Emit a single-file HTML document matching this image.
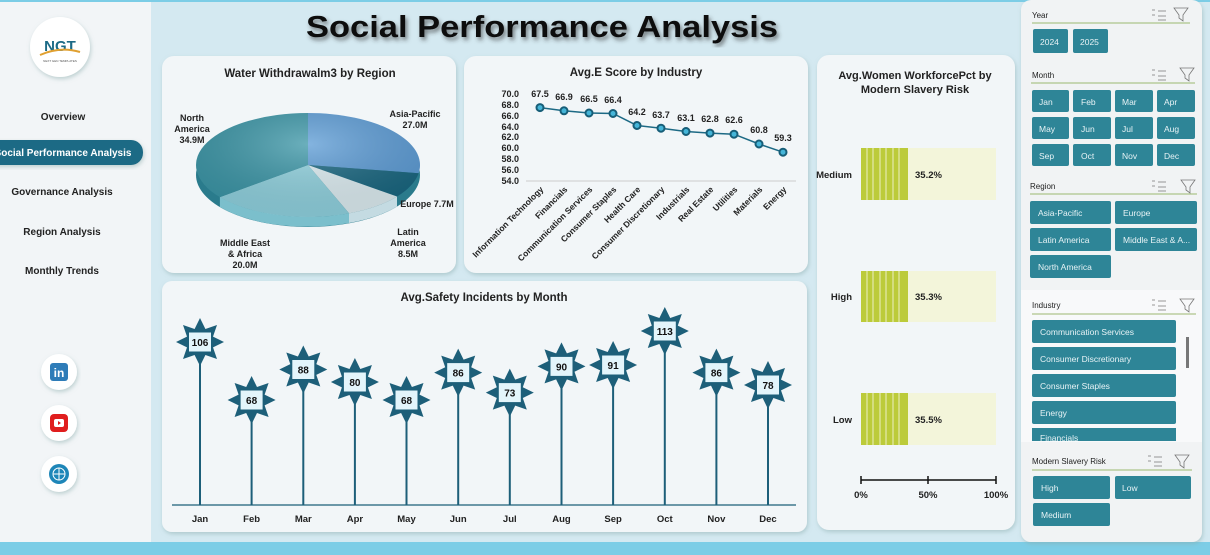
<!DOCTYPE html>
<html><head><meta charset="utf-8"><style>
html,body{margin:0;padding:0;width:1210px;height:555px;overflow:hidden;background:#d4e9f1}
svg{display:block;font-family:"Liberation Sans",sans-serif}
</style></head><body>
<svg width="1210" height="555" viewBox="0 0 1210 555" xmlns="http://www.w3.org/2000/svg">
<defs>
<filter id="sh" x="-10%" y="-10%" width="120%" height="130%"><feDropShadow dx="1" dy="2" stdDeviation="2" flood-color="#8aa" flood-opacity="0.5"/></filter>
<filter id="tsh"><feDropShadow dx="2" dy="3" stdDeviation="2" flood-color="#333" flood-opacity="0.6"/></filter>
<radialGradient id="pg" cx="50%" cy="30%" r="70%"><stop offset="0" stop-color="#fff" stop-opacity="0.25"/><stop offset="1" stop-color="#000" stop-opacity="0.1"/></radialGradient>
<g id="star"><polygon points="0,-24 5.4,-13 17,-17 13,-5.4 24,0 13,5.4 17,17 5.4,13 0,24 -5.4,13 -17,17 -13,5.4 -24,0 -13,-5.4 -17,-17 -5.4,-13" fill="#1d5f79"/><rect x="-11" y="-9.5" width="22" height="19" fill="#e3f5fb"/></g>
</defs>
<rect width="1210" height="555" fill="#d4e9f1"/>
<rect x="0" y="542" width="1210" height="13" fill="#7ccde6"/>
<rect x="0" y="0" width="1210" height="2" fill="#7ccde6"/>
<rect x="0" y="2" width="151" height="540" fill="#f2f5f7"/>
<circle cx="60" cy="47" r="30" fill="#fff" filter="url(#sh)"/>
<text x="60" y="51" text-anchor="middle" font-size="15" font-weight="bold" fill="#1c6a86">NGT</text>
<path d="M40 55 Q60 46 80 52" stroke="#e0a030" stroke-width="2" fill="none"/>
<text x="60" y="62" text-anchor="middle" font-size="3" fill="#555">NEXT GEN TEMPLATES</text>
<g font-size="10" font-weight="bold" fill="#222" text-anchor="middle">
<text x="63" y="120">Overview</text>
<text x="62" y="195">Governance Analysis</text>
<text x="62" y="235">Region Analysis</text>
<text x="62" y="274">Monthly Trends</text>
</g>
<rect x="-20" y="140" width="163" height="25" rx="12" fill="#1d6a85" filter="url(#sh)"/>
<text x="63" y="156" text-anchor="middle" font-size="10" font-weight="bold" fill="#fff">Social Performance Analysis</text>
<circle cx="59" cy="372" r="18" fill="#fff" filter="url(#sh)"/>
<rect x="50" y="363" width="18" height="18" rx="3" fill="#2e7cb8"/><text x="59" y="377" text-anchor="middle" font-size="12" font-weight="bold" fill="#fff">in</text>
<circle cx="59" cy="423" r="18" fill="#fff" filter="url(#sh)"/>
<rect x="50" y="414" width="18" height="18" rx="4" fill="#e01e1e"/><rect x="54" y="419" width="10" height="8" rx="2" fill="#fff"/><polygon points="58,421 58,425 61,423" fill="#e01e1e"/>
<circle cx="59" cy="474" r="18" fill="#fff" filter="url(#sh)"/>
<circle cx="59" cy="474" r="10" fill="#1e86b8"/><circle cx="59" cy="474" r="6" fill="none" stroke="#fff" stroke-width="1"/><line x1="53" y1="474" x2="65" y2="474" stroke="#fff"/><line x1="59" y1="468" x2="59" y2="480" stroke="#fff"/>
<text x="542" y="37" text-anchor="middle" font-size="31" font-weight="bold" fill="#111" filter="url(#tsh)" textLength="472" lengthAdjust="spacingAndGlyphs">Social Performance Analysis</text>
<rect x="162" y="56" width="294" height="217" rx="12" fill="#f2f6f8" filter="url(#sh)"/>
<rect x="464" y="56" width="344" height="217" rx="12" fill="#f2f6f8" filter="url(#sh)"/>
<rect x="162" y="281" width="645" height="251" rx="10" fill="#f2f6f8" filter="url(#sh)"/>
<rect x="817" y="55" width="198" height="475" rx="12" fill="#f2f6f8" filter="url(#sh)"/>
<text x="310" y="77" text-anchor="middle" font-size="11.5" font-weight="bold" fill="#222">Water Withdrawalm3 by Region</text>
<ellipse cx="308" cy="175" rx="112" ry="52" fill="#2a7b8c"/>
<path d="M219.9 207 L219.9 197 A112 52 0 0 0 349 213.4 L349 223 A112 52 0 0 1 219.9 207Z" fill="#7bbfcc"/>
<path d="M349 213.4 L349 223 A112 52 0 0 0 397 206.5 L397 196.5 A112 52 0 0 1 349 213.4Z" fill="#c4dbe2"/>
<path d="M308 165 L308 113 A112 52 0 0 1 418.6 173.2Z" fill="#5b9bd5"/>
<path d="M308 165 L418.6 173.2 A112 52 0 0 1 397 196.5Z" fill="#17657f"/>
<path d="M308 165 L397 196.5 A112 52 0 0 1 349.1 213.4Z" fill="#dcecf1"/>
<path d="M308 165 L349.1 213.4 A112 52 0 0 1 219.9 197.1Z" fill="#8fd1de"/>
<path d="M308 165 L219.9 197.1 A112 52 0 0 1 308 113Z" fill="#3a95a6"/>
<ellipse cx="308" cy="165" rx="112" ry="52" fill="url(#pg)"/>
<g font-size="9" font-weight="bold" fill="#222" text-anchor="middle">
<text x="192" y="121">North</text><text x="192" y="132">America</text><text x="192" y="143">34.9M</text>
<text x="415" y="117">Asia-Pacific</text><text x="415" y="128">27.0M</text>
<text x="427" y="207">Europe 7.7M</text>
<text x="408" y="235">Latin</text><text x="408" y="246">America</text><text x="408" y="257">8.5M</text>
<text x="245" y="246">Middle East</text><text x="245" y="257">&amp; Africa</text><text x="245" y="268">20.0M</text>
</g>
<text x="636" y="76" text-anchor="middle" font-size="11.5" font-weight="bold" fill="#222">Avg.E Score by Industry</text>
<g font-size="9" font-weight="bold" fill="#222" text-anchor="end">
<text x="519" y="97">70.0</text><text x="519" y="108">68.0</text><text x="519" y="119">66.0</text><text x="519" y="130">64.0</text><text x="519" y="140">62.0</text><text x="519" y="151">60.0</text><text x="519" y="162">58.0</text><text x="519" y="173">56.0</text><text x="519" y="184">54.0</text>
</g>
<line x1="526" y1="181" x2="796" y2="181" stroke="#ccc"/>
<polyline points="540,107.6 564,110.8 589,113 613,113.5 637,125.5 661,128.2 686,131.5 710,133.1 734,134.2 759,144 783,152.2" fill="none" stroke="#1d6a85" stroke-width="1.5"/>
<g fill="#45b5d8" stroke="#175e78" stroke-width="2">
<circle cx="540" cy="107.6" r="3.5"/><circle cx="564" cy="110.8" r="3.5"/><circle cx="589" cy="113" r="3.5"/><circle cx="613" cy="113.5" r="3.5"/><circle cx="637" cy="125.5" r="3.5"/><circle cx="661" cy="128.2" r="3.5"/><circle cx="686" cy="131.5" r="3.5"/><circle cx="710" cy="133.1" r="3.5"/><circle cx="734" cy="134.2" r="3.5"/><circle cx="759" cy="144" r="3.5"/><circle cx="783" cy="152.2" r="3.5"/>
</g>
<g font-size="9" font-weight="bold" fill="#222" text-anchor="middle">
<text x="540" y="97">67.5</text><text x="564" y="100">66.9</text><text x="589" y="102">66.5</text><text x="613" y="103">66.4</text><text x="637" y="115">64.2</text><text x="661" y="118">63.7</text><text x="686" y="121">63.1</text><text x="710" y="122">62.8</text><text x="734" y="123">62.6</text><text x="759" y="133">60.8</text><text x="783" y="141">59.3</text>
</g>
<g font-size="8.5" font-weight="bold" fill="#222" text-anchor="end">
<text transform="translate(544,190) rotate(-45)">Information Technology</text>
<text transform="translate(568,190) rotate(-45)">Financials</text>
<text transform="translate(593,190) rotate(-45)">Communication Services</text>
<text transform="translate(617,190) rotate(-45)">Consumer Staples</text>
<text transform="translate(641,190) rotate(-45)">Health Care</text>
<text transform="translate(665,190) rotate(-45)">Consumer Discretionary</text>
<text transform="translate(690,190) rotate(-45)">Industrials</text>
<text transform="translate(714,190) rotate(-45)">Real Estate</text>
<text transform="translate(738,190) rotate(-45)">Utilities</text>
<text transform="translate(763,190) rotate(-45)">Materials</text>
<text transform="translate(787,190) rotate(-45)">Energy</text>
</g>
<text x="484" y="301" text-anchor="middle" font-size="11.5" font-weight="bold" fill="#222">Avg.Safety Incidents by Month</text>
<line x1="172" y1="505" x2="796" y2="505" stroke="#1d5f79" stroke-width="1.2"/>
<g stroke="#1d5f79" stroke-width="2">
<line x1="200" y1="505" x2="200" y2="342"/><line x1="251.6" y1="505" x2="251.6" y2="400"/><line x1="303.3" y1="505" x2="303.3" y2="369.5"/><line x1="354.9" y1="505" x2="354.9" y2="382"/><line x1="406.5" y1="505" x2="406.5" y2="400"/><line x1="458.2" y1="505" x2="458.2" y2="372.6"/><line x1="509.8" y1="505" x2="509.8" y2="392.6"/><line x1="561.5" y1="505" x2="561.5" y2="366.4"/><line x1="613.1" y1="505" x2="613.1" y2="365"/><line x1="664.8" y1="505" x2="664.8" y2="331"/><line x1="716.4" y1="505" x2="716.4" y2="372.6"/><line x1="768" y1="505" x2="768" y2="385"/>
</g>
<use href="#star" x="200" y="342"/><use href="#star" x="251.6" y="400"/><use href="#star" x="303.3" y="369.5"/><use href="#star" x="354.9" y="382"/><use href="#star" x="406.5" y="400"/><use href="#star" x="458.2" y="372.6"/><use href="#star" x="509.8" y="392.6"/><use href="#star" x="561.5" y="366.4"/><use href="#star" x="613.1" y="365"/><use href="#star" x="664.8" y="331"/><use href="#star" x="716.4" y="372.6"/><use href="#star" x="768" y="385"/>
<g font-size="10" font-weight="bold" fill="#111" text-anchor="middle">
<text x="200" y="346">106</text><text x="251.6" y="404">68</text><text x="303.3" y="373.5">88</text><text x="354.9" y="386">80</text><text x="406.5" y="404">68</text><text x="458.2" y="376.6">86</text><text x="509.8" y="396.6">73</text><text x="561.5" y="370.4">90</text><text x="613.1" y="369">91</text><text x="664.8" y="335">113</text><text x="716.4" y="376.6">86</text><text x="768" y="389">78</text>
</g>
<g font-size="9.5" font-weight="bold" fill="#222" text-anchor="middle">
<text x="200" y="522">Jan</text><text x="251.6" y="522">Feb</text><text x="303.3" y="522">Mar</text><text x="354.9" y="522">Apr</text><text x="406.5" y="522">May</text><text x="458.2" y="522">Jun</text><text x="509.8" y="522">Jul</text><text x="561.5" y="522">Aug</text><text x="613.1" y="522">Sep</text><text x="664.8" y="522">Oct</text><text x="716.4" y="522">Nov</text><text x="768" y="522">Dec</text>
</g>
<text x="915" y="79" text-anchor="middle" font-size="11" font-weight="bold" fill="#222">Avg.Women WorkforcePct by</text>
<text x="915" y="93" text-anchor="middle" font-size="11" font-weight="bold" fill="#222">Modern Slavery Risk</text>
<g>
<rect x="861" y="148" width="135" height="52" fill="#f3f5da"/><rect x="861" y="148" width="47" height="52" fill="#bccb3a"/>
<rect x="861" y="271" width="135" height="51" fill="#f3f5da"/><rect x="861" y="271" width="47" height="51" fill="#bccb3a"/>
<rect x="861" y="393" width="135" height="52" fill="#f3f5da"/><rect x="861" y="393" width="47" height="52" fill="#bccb3a"/>
</g>
<g stroke="#fff" stroke-width="1" opacity="0.7">
<path d="M867 148V200M873 148V200M880 148V200M886 148V200M893 148V200M899 148V200M867 271V322M873 271V322M880 271V322M886 271V322M893 271V322M899 271V322M867 393V445M873 393V445M880 393V445M886 393V445M893 393V445M899 393V445"/>
</g>
<g font-size="9.5" font-weight="bold" fill="#222">
<text x="852" y="178" text-anchor="end">Medium</text><text x="852" y="300" text-anchor="end">High</text><text x="852" y="423" text-anchor="end">Low</text>
<text x="915" y="178">35.2%</text><text x="915" y="300">35.3%</text><text x="915" y="423">35.5%</text>
<text x="861" y="498" text-anchor="middle">0%</text><text x="928" y="498" text-anchor="middle">50%</text><text x="996" y="498" text-anchor="middle">100%</text>
</g>
<path d="M861 480H996M861 476V484M928 476V484M996 476V484" stroke="#111" stroke-width="1.5"/>
<rect x="1021" y="0" width="181" height="542" rx="10" fill="#f1f3f4" filter="url(#sh)"/>
<rect x="1021" y="290" width="181" height="152" fill="#f8f9fa"/>
<g font-size="8" fill="#222">
<text x="1032" y="18">Year</text><text x="1032" y="78">Month</text><text x="1030" y="189">Region</text><text x="1032" y="308">Industry</text><text x="1032" y="464">Modern Slavery Risk</text>
</g>
<g stroke="#9bb870" stroke-width="1"><line x1="1032" y1="23" x2="1190" y2="23"/><line x1="1031" y1="83" x2="1195" y2="83"/><line x1="1030" y1="194" x2="1197" y2="194"/><line x1="1032" y1="314" x2="1196" y2="314"/><line x1="1032" y1="470" x2="1192" y2="470"/></g>
<g fill="none" stroke="#777" stroke-width="0.8">
<path d="M1152 10h3M1158 11h8M1152 15h3M1158 16h8M1158 20h8M1174 8h14l-5 7v6l-4-3v-3z"/>
<path d="M1152 70h3M1158 71h8M1152 75h3M1158 76h8M1158 80h8M1180 68h14l-5 7v6l-4-3v-3z"/>
<path d="M1152 181h3M1158 182h8M1152 186h3M1158 187h8M1158 191h8M1181 180h14l-5 7v6l-4-3v-3z"/>
<path d="M1152 300h3M1158 301h8M1152 305h3M1158 306h8M1158 310h8M1180 299h14l-5 7v6l-4-3v-3z"/>
<path d="M1148 456h3M1154 457h8M1148 461h3M1154 462h8M1154 466h8M1175 455h14l-5 7v6l-4-3v-3z"/>
</g>
<g fill="#2e8597">
<rect x="1033" y="29" width="35" height="24" rx="2"/><rect x="1073" y="29" width="35" height="24" rx="2"/>
<rect x="1032" y="90" width="37" height="22" rx="2"/><rect x="1073" y="90" width="38" height="22" rx="2"/><rect x="1115" y="90" width="38" height="22" rx="2"/><rect x="1157" y="90" width="38" height="22" rx="2"/>
<rect x="1032" y="117" width="37" height="22" rx="2"/><rect x="1073" y="117" width="38" height="22" rx="2"/><rect x="1115" y="117" width="38" height="22" rx="2"/><rect x="1157" y="117" width="38" height="22" rx="2"/>
<rect x="1032" y="144" width="37" height="22" rx="2"/><rect x="1073" y="144" width="38" height="22" rx="2"/><rect x="1115" y="144" width="38" height="22" rx="2"/><rect x="1157" y="144" width="38" height="22" rx="2"/>
<rect x="1030" y="201" width="81" height="23" rx="2"/><rect x="1115" y="201" width="82" height="23" rx="2"/>
<rect x="1030" y="228" width="81" height="23" rx="2"/><rect x="1115" y="228" width="82" height="23" rx="2"/>
<rect x="1030" y="255" width="81" height="23" rx="2"/>
<rect x="1032" y="320" width="144" height="23" rx="2"/><rect x="1032" y="347" width="144" height="23" rx="2"/><rect x="1032" y="374" width="144" height="23" rx="2"/><rect x="1032" y="401" width="144" height="23" rx="2"/><rect x="1032" y="428" width="144" height="13"/>
<rect x="1033" y="476" width="77" height="23" rx="2"/><rect x="1115" y="476" width="76" height="23" rx="2"/><rect x="1033" y="503" width="77" height="23" rx="2"/>
</g>
<rect x="1186" y="337" width="3" height="31" fill="#777"/>
<g font-size="8.5" fill="#e8f3f6">
<text x="1040" y="45">2024</text><text x="1080" y="45">2025</text>
<text x="1039" y="105">Jan</text><text x="1081" y="105">Feb</text><text x="1122" y="105">Mar</text><text x="1164" y="105">Apr</text>
<text x="1039" y="132">May</text><text x="1081" y="132">Jun</text><text x="1122" y="132">Jul</text><text x="1164" y="132">Aug</text>
<text x="1039" y="159">Sep</text><text x="1081" y="159">Oct</text><text x="1122" y="159">Nov</text><text x="1164" y="159">Dec</text>
<text x="1038" y="216">Asia-Pacific</text><text x="1123" y="216">Europe</text>
<text x="1038" y="243">Latin America</text><text x="1123" y="243">Middle East &amp; A...</text>
<text x="1038" y="270">North America</text>
<text x="1040" y="335">Communication Services</text><text x="1040" y="362">Consumer Discretionary</text><text x="1040" y="389">Consumer Staples</text><text x="1040" y="416">Energy</text><text x="1040" y="441">Financials</text>
<text x="1041" y="491">High</text><text x="1122" y="491">Low</text><text x="1041" y="518">Medium</text>
</g>
</svg>
</body></html>
